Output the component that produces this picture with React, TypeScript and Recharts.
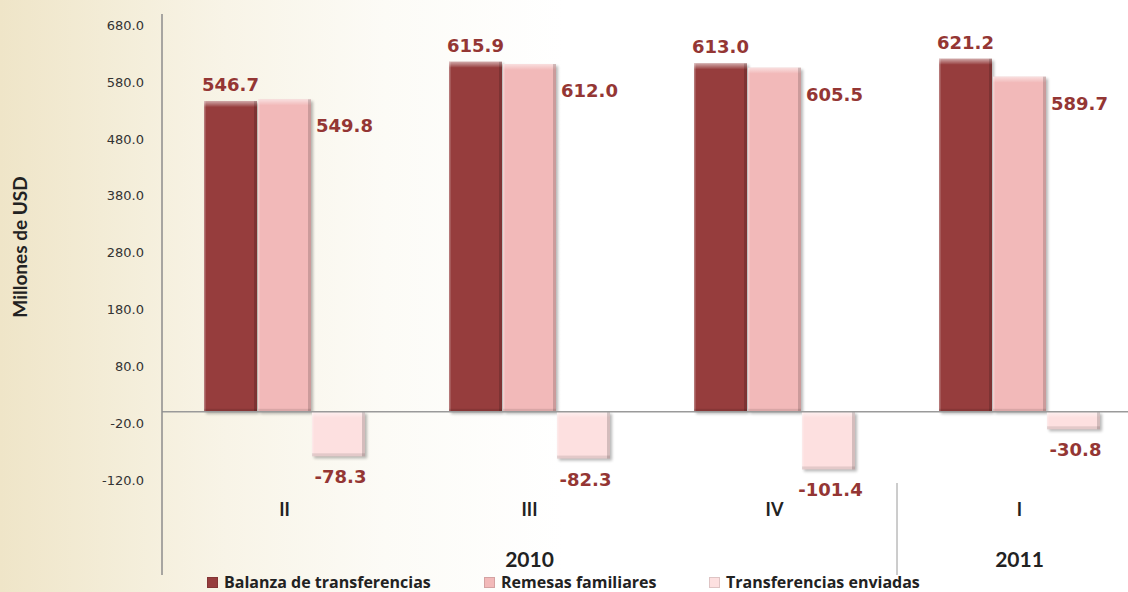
import { BarChart, Bar, XAxis, YAxis, ReferenceLine, LabelList } from "recharts";

const quarters = ["II", "III", "IV", "I"];
const years = ["2010", "2010", "2010", "2011"];
const balanza = [546.7, 615.9, 613.0, 621.2];
const remesas = [549.8, 612.0, 605.5, 589.7];
const enviadas = [-78.3, -82.3, -101.4, -30.8];
const yTicks = [-120, -20, 80, 180, 280, 380, 480, 580, 680];

const seriesNames = ["Balanza de transferencias", "Remesas familiares", "Transferencias enviadas"];
const colors = ["#963d3d", "#f2b9b9", "#fde0e0"];
const labelColor = "#943634";

const data = quarters.map((q, i) => ({
  quarter: q,
  year: years[i],
  balanza: balanza[i],
  remesas: remesas[i],
  enviadas: enviadas[i],
}));

const CHART_W = 1150;
const CHART_H = 592;
const Y_AXIS_W = 162;
const RIGHT = 8;
const band = (CHART_W - Y_AXIS_W - RIGHT) / quarters.length;
const titleFont = "Lato, 'Open Sans', sans-serif";

// bar with a bit of bevel + drop shadow, like the office 3d preset
const BevelBar = (props: any) => {
  const { x, y, width, height, fill } = props;
  if (width == null || height == null) return null;
  const top = Math.min(y, y + height);
  const h = Math.abs(height);
  return (
    <g>
      <rect x={x + 2} y={top + 2} width={width} height={h} fill="#000" opacity={0.28} filter="url(#barShadow)" />
      <rect x={x} y={top} width={width} height={h} fill={fill} />
      <rect x={x} y={top} width={width} height={Math.min(6, h)} fill="url(#topBevel)" />
      <rect x={x + width - 3} y={top} width={3} height={h} fill="#000" opacity={0.16} />
      <rect x={x} y={top} width={1.5} height={h} fill="#fff" opacity={0.3} />
      <rect x={x} y={top + h - 3} width={width} height={3} fill="#000" opacity={0.1} />
    </g>
  );
};

const RightLabel = (props: any) => {
  const { x, y, width, height, value } = props;
  const top = Math.min(y, y + height);
  return (
    <text x={x + width + 5} y={top + 33} fill={labelColor} fontSize={18} fontWeight="bold" fontFamily="'DejaVu Sans', sans-serif">
      {Number(value).toFixed(1)}
    </text>
  );
};

const BelowLabel = (props: any) => {
  const { x, y, width, height, value } = props;
  const bottom = Math.max(y, y + height);
  return (
    <text x={x + width / 2 + 2} y={bottom + 27} textAnchor="middle" fill={labelColor} fontSize={18} fontWeight="bold" fontFamily="'DejaVu Sans', sans-serif">
      {Number(value).toFixed(1)}
    </text>
  );
};

// two level category axis: quarter on first row, year groups below
const QuarterTick = (props: any) => {
  const { x, y, payload, index } = props;
  const left = x - band / 2;
  const yr = years[index];
  const isFirst = index === 0 || years[index - 1] !== yr;
  let count = 0;
  for (let j = index; j < years.length && years[j] === yr; j++) count++;
  return (
    <g>
      <text x={x} y={y + 36} textAnchor="middle" fill="#222" fontSize={18} fontWeight="bold" fontFamily={titleFont}>
        {payload.value}
      </text>
      {index === 0 && <line x1={left} x2={left} y1={y} y2={y + 95} stroke="#8c8c8c" strokeWidth={1.5} />}
      {isFirst && index > 0 && <line x1={left} x2={left} y1={y + 3} y2={y + 95} stroke="#9a9a9a" strokeWidth={1} />}
      {isFirst && (
        <text x={left + (count * band) / 2} y={y + 87} textAnchor="middle" fill="#222" fontSize={21} fontWeight="bold" fontFamily={titleFont}>
          {yr}
        </text>
      )}
    </g>
  );
};

export default function App() {
  return (
    <div
      style={{
        position: "absolute",
        left: 0,
        top: 0,
        width: 1128,
        height: 592,
        overflow: "hidden",
        background:
          "linear-gradient(90deg, #efe5c8 0%, #f3ecd6 9%, #f8f4e7 20%, #fcfbf6 34%, #ffffff 50%)",
      }}
    >
      <BarChart
        width={CHART_W}
        height={CHART_H}
        data={data}
        margin={{ top: 14, right: RIGHT, bottom: 0, left: 0 }}
        barSize={53}
        barGap={1}
      >
        <defs>
          <filter id="barShadow" x="-20%" y="-20%" width="140%" height="140%">
            <feGaussianBlur stdDeviation="1.5" />
          </filter>
          <linearGradient id="topBevel" x1="0" y1="0" x2="0" y2="1">
            <stop offset="0%" stopColor="#fff" stopOpacity={0.55} />
            <stop offset="100%" stopColor="#fff" stopOpacity={0} />
          </linearGradient>
        </defs>
        <YAxis
          width={Y_AXIS_W}
          domain={[-120, 700]}
          ticks={yTicks}
          tickFormatter={(v: number) => v.toFixed(1)}
          axisLine={{ stroke: "#8c8c8c", strokeWidth: 1.5 }}
          tickLine={false}
          tickSize={0}
          tickMargin={18}
          tick={{ fill: "#333", fontSize: 13, fontFamily: "'DejaVu Sans', sans-serif" }}
          label={{
            value: "Millones de  USD",
            angle: -90,
            position: "insideLeft",
            offset: 20,
            style: { fill: "#222", fontSize: 19, fontWeight: "bold", fontFamily: titleFont, textAnchor: "middle" },
          }}
        />
        <XAxis
          dataKey="quarter"
          axisLine={false}
          tickLine={false}
          tickSize={0}
          tickMargin={0}
          height={112}
          interval={0}
          tick={<QuarterTick />}
        />
        <ReferenceLine y={0} stroke="#9a9a9a" strokeWidth={1.5} />
        <Bar dataKey="balanza" name={seriesNames[0]} fill={colors[0]} shape={<BevelBar />} isAnimationActive={false}>
          <LabelList
            dataKey="balanza"
            position="top"
            offset={10}
            formatter={(v: any) => Number(v).toFixed(1)}
            style={{ fill: labelColor, fontSize: 18, fontWeight: "bold", fontFamily: "'DejaVu Sans', sans-serif" }}
          />
        </Bar>
        <Bar dataKey="remesas" name={seriesNames[1]} fill={colors[1]} shape={<BevelBar />} isAnimationActive={false}>
          <LabelList dataKey="remesas" content={<RightLabel />} />
        </Bar>
        <Bar dataKey="enviadas" name={seriesNames[2]} fill={colors[2]} shape={<BevelBar />} isAnimationActive={false}>
          <LabelList dataKey="enviadas" content={<BelowLabel />} />
        </Bar>
      </BarChart>

      {/* legend hugging the bottom edge like the original */}
      <div
        style={{
          position: "absolute",
          left: 207,
          top: 573,
          display: "flex",
          fontFamily: "'Open Sans', Lato, sans-serif",
          fontWeight: "bold",
          fontSize: 16,
          lineHeight: "18px",
          color: "#222",
          whiteSpace: "nowrap",
        }}
      >
        {seriesNames.map((n, i) => (
          <div key={n} style={{ display: "flex", alignItems: "center", width: [277, 225, 240][i] }}>
            <span
              style={{
                display: "inline-block",
                width: 11,
                height: 11,
                marginRight: 6,
                background: colors[i],
                boxShadow: "inset 0 0 0 1px rgba(0,0,0,0.12)",
              }}
            />
            {n}
          </div>
        ))}
      </div>
    </div>
  );
}
